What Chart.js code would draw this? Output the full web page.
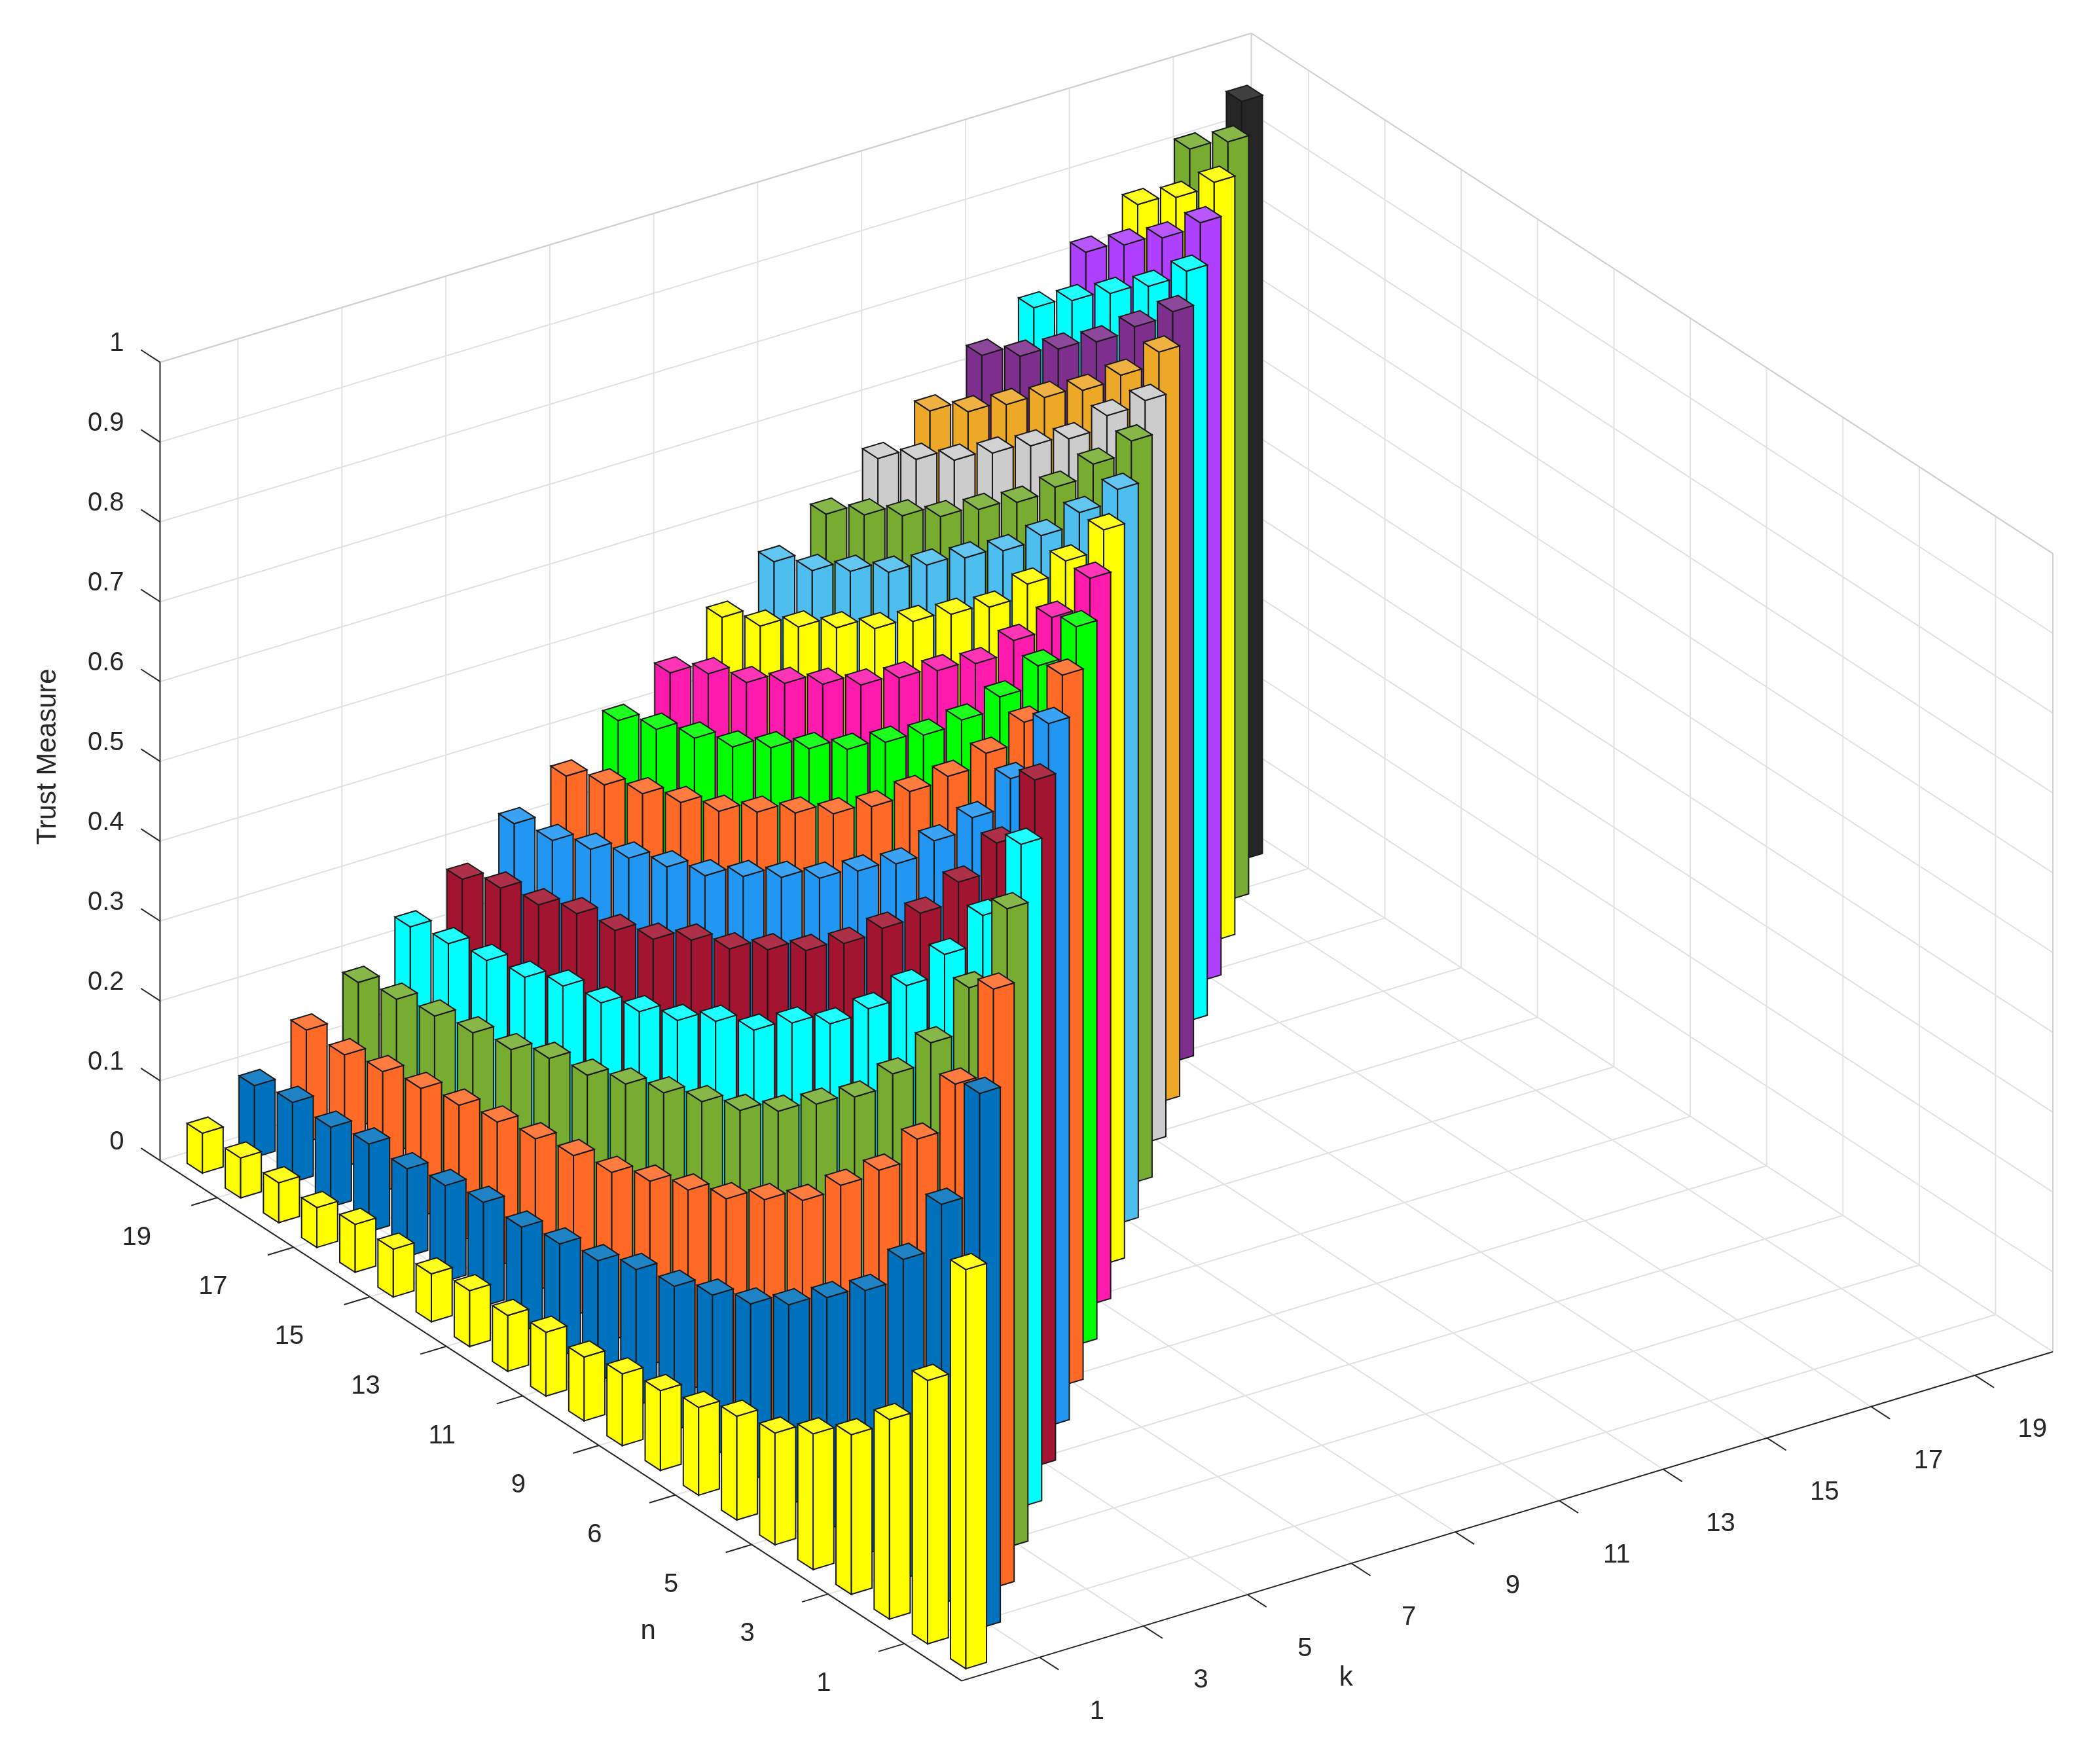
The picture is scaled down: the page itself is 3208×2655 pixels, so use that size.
<!DOCTYPE html>
<html>
<head>
<meta charset="utf-8">
<style>
  html, body { margin: 0; padding: 0; background: #fff; }
  #wrap { width: 3208px; height: 2655px; }
</style>
<script src="https://cdn.jsdelivr.net/npm/chart.js@4.4.1/dist/chart.umd.min.js"></script>
</head>
<body>
<div id="wrap"><canvas id="trustChart" width="3208" height="2655"></canvas></div>
<script>
// Trust measure, one row per n (row i holds k = 1..i)
var row1 = [0.50];
var row2 = [0.33, 0.67];
var row3 = [0.25, 0.50, 0.75];
var row4 = [0.20, 0.40, 0.60, 0.80];
var row5 = [0.17, 0.33, 0.50, 0.67, 0.83];
var row6 = [0.14, 0.29, 0.43, 0.57, 0.71, 0.86];
var row7 = [0.13, 0.25, 0.38, 0.50, 0.63, 0.75, 0.88];
var row8 = [0.11, 0.22, 0.33, 0.44, 0.56, 0.67, 0.78, 0.89];
var row9 = [0.10, 0.20, 0.30, 0.40, 0.50, 0.60, 0.70, 0.80, 0.90];
var row10 = [0.09, 0.18, 0.27, 0.36, 0.45, 0.55, 0.64, 0.73, 0.82, 0.91];
var row11 = [0.08, 0.17, 0.25, 0.33, 0.42, 0.50, 0.58, 0.67, 0.75, 0.83, 0.92];
var row12 = [0.08, 0.15, 0.23, 0.31, 0.38, 0.46, 0.54, 0.62, 0.69, 0.77, 0.85, 0.92];
var row13 = [0.07, 0.14, 0.21, 0.29, 0.36, 0.43, 0.50, 0.57, 0.64, 0.71, 0.79, 0.86, 0.93];
var row14 = [0.07, 0.13, 0.20, 0.27, 0.33, 0.40, 0.47, 0.53, 0.60, 0.67, 0.73, 0.80, 0.87, 0.93];
var row15 = [0.06, 0.13, 0.19, 0.25, 0.31, 0.38, 0.44, 0.50, 0.56, 0.63, 0.69, 0.75, 0.81, 0.88, 0.94];
var row16 = [0.06, 0.12, 0.18, 0.24, 0.29, 0.35, 0.41, 0.47, 0.53, 0.59, 0.65, 0.71, 0.76, 0.82, 0.88, 0.94];
var row17 = [0.06, 0.11, 0.17, 0.22, 0.28, 0.33, 0.39, 0.44, 0.50, 0.56, 0.61, 0.67, 0.72, 0.78, 0.83, 0.89, 0.94];
var row18 = [0.05, 0.11, 0.16, 0.21, 0.26, 0.32, 0.37, 0.42, 0.47, 0.53, 0.58, 0.63, 0.68, 0.74, 0.79, 0.84, 0.89, 0.95];
var row19 = [0.05, 0.10, 0.15, 0.20, 0.25, 0.30, 0.35, 0.40, 0.45, 0.50, 0.55, 0.60, 0.65, 0.70, 0.75, 0.80, 0.85, 0.90, 0.95];
var row20 = [0.05, 0.10, 0.14, 0.19, 0.24, 0.29, 0.33, 0.38, 0.43, 0.48, 0.52, 0.57, 0.62, 0.67, 0.71, 0.76, 0.81, 0.86, 0.90, 0.95];
var row21 = [0.05, 0.09, 0.14, 0.18, 0.23, 0.27, 0.32, 0.36, 0.41, 0.45, 0.50, 0.55, 0.59, 0.64, 0.68, 0.73, 0.77, 0.82, 0.86, 0.91, 0.95];
var rows = [row1, row2, row3, row4, row5, row6, row7, row8, row9, row10, row11,
            row12, row13, row14, row15, row16, row17, row18, row19, row20, row21];

// colour of each k column
var kColors = ['#FFFF00', '#0072BD', '#FF6A26', '#77AC30', '#00FFFF', '#A2142F', '#2196F3',
               '#FF6A26', '#00FF00', '#FF1AAE', '#FFFF00', '#4DBEEE', '#77AC30', '#CCCCCC',
               '#EDA828', '#7E2F8E', '#00FFFF', '#B040FF', '#FFFF00', '#77AC30', '#262626'];

var nTicks = [1, 3, 5, 7, 9, 11, 13, 15, 17, 19];
var nTickLabels = ['1', '3', '5', '6', '9', '11', '13', '15', '17', '19'];
var kTicks = [1, 3, 5, 7, 9, 11, 13, 15, 17, 19];
var kTickLabels = ['1', '3', '5', '7', '9', '11', '13', '15', '17', '19'];
var zTicks = [0, 0.1, 0.2, 0.3, 0.4, 0.5, 0.6, 0.7, 0.8, 0.9, 1];
var zTickLabels = ['0', '0.1', '0.2', '0.3', '0.4', '0.5', '0.6', '0.7', '0.8', '0.9', '1'];

/* view: maps (n position, k position, z) into the chart's x/y value space */
var view = {
    ox: 718, oy: 1255,          // front corner (n = -0.5, k = -0.5, z = 0)
    nx: -28.5, ny: -18.5,       // one n step
    kx: 38.8, ky: -11.7,        // one k step
    zh: 596,                    // z = 1
    lo: -0.5, hi: 20.5,
    w: 0.2                      // half width of a bar
};

function proj(n, k, z) {
    var a = n - view.lo, b = k - view.lo;
    return { x: view.ox + a * view.nx + b * view.kx, y: view.oy + a * view.ny + b * view.ky - z * view.zh };
}

function lighten(hex, f) {
    var r = parseInt(hex.substr(1, 2), 16), g = parseInt(hex.substr(3, 2), 16), b = parseInt(hex.substr(5, 2), 16);
    r = Math.round(r + (255 - r) * f); g = Math.round(g + (255 - g) * f); b = Math.round(b + (255 - b) * f);
    return 'rgb(' + r + ',' + g + ',' + b + ')';
}

/* one dataset per k; each point is the projected bar top */
var datasets = kColors.map(function(col, ki) {
    var pts = [];
    rows.forEach(function(r, ni) {
        if (ki < r.length) {
            var p = proj(ni, ki, r[ki]);
            pts.push({ x: p.x, y: p.y, n: ni, k: ki, v: r[ki] });
        }
    });
    return { label: 'k=' + (ki + 1), data: pts, backgroundColor: col, pointRadius: 0 };
});

var bars3d = {
    id: 'bars3d',
    beforeDatasetsDraw: function(chart) {
        var ctx = chart.ctx, xs = chart.scales.x, ys = chart.scales.y;
        function P(n, k, z) { var p = proj(n, k, z); return [xs.getPixelForValue(p.x), ys.getPixelForValue(p.y)]; }
        function line(a, b, color, lw) {
            ctx.beginPath(); ctx.moveTo(a[0], a[1]); ctx.lineTo(b[0], b[1]);
            ctx.strokeStyle = color; ctx.lineWidth = lw; ctx.stroke();
        }
        var lo = view.lo, hi = view.hi, grid = '#e2e2e2', lw = 2;
        ctx.save();

        /* grid: floor, back-left wall (n = hi), right wall (k = hi) */
        kTicks.forEach(function(t) {
            line(P(lo, t, 0), P(hi, t, 0), grid, lw);
            line(P(hi, t, 0), P(hi, t, 1), grid, lw);
        });
        nTicks.forEach(function(t) {
            line(P(t, lo, 0), P(t, hi, 0), grid, lw);
            line(P(t, hi, 0), P(t, hi, 1), grid, lw);
        });
        zTicks.forEach(function(z) {
            line(P(hi, lo, z), P(hi, hi, z), grid, lw);
            line(P(hi, hi, z), P(lo, hi, z), grid, lw);
        });
        line(P(hi, hi, 0), P(hi, hi, 1), '#d0d0d0', lw);
        line(P(lo, hi, 0), P(lo, hi, 1), '#d0d0d0', lw);
        line(P(hi, lo, 1), P(hi, hi, 1), '#d0d0d0', lw);
        line(P(lo, hi, 1), P(hi, hi, 1), '#d0d0d0', lw);

        /* axes */
        var ax = '#262626';
        line(P(lo, lo, 0), P(hi, lo, 0), ax, 2);
        line(P(lo, lo, 0), P(lo, hi, 0), ax, 2);
        line(P(hi, lo, 0), P(hi, lo, 1), ax, 2);

        ctx.fillStyle = '#262626';
        ctx.font = '40px "Liberation Sans", Arial, sans-serif';
        ctx.textBaseline = 'middle';
        ctx.textAlign = 'center';
        nTicks.forEach(function(t, i) {
            var a = P(t, lo, 0), b = P(t, lo - 0.5, 0);
            line(a, b, ax, 2);
            var c = P(t, lo - 1.3, 0);
            ctx.fillText(nTickLabels[i], c[0] - 20, c[1] + 30);
        });
        kTicks.forEach(function(t, i) {
            var a = P(lo, t, 0), b = P(lo - 0.5, t, 0);
            line(a, b, ax, 2);
            var c = P(lo - 1.3, t, 0);
            ctx.fillText(kTickLabels[i], c[0] + 12, c[1] + 34);
        });
        ctx.textAlign = 'right';
        zTicks.forEach(function(z, i) {
            var a = P(hi, lo, z), b = P(hi + 0.5, lo, z);
            line(a, b, ax, 2);
            ctx.fillText(zTickLabels[i], a[0] - 55, a[1] - 28);
        });
        ctx.textAlign = 'center';
        ctx.font = '42px "Liberation Sans", Arial, sans-serif';
        ctx.fillText('n', xs.getPixelForValue(484), ys.getPixelForValue(1218));
        ctx.fillText('k', xs.getPixelForValue(1005), ys.getPixelForValue(1253));
        ctx.save();
        ctx.translate(xs.getPixelForValue(36), ys.getPixelForValue(565));
        ctx.rotate(-Math.PI / 2);
        ctx.fillText('Trust Measure', 0, 0);
        ctx.restore();

        /* bars, far to near */
        var all = [];
        chart.data.datasets.forEach(function(ds, di) {
            ds.data.forEach(function(d) { all.push({ d: d, col: kColors[di] }); });
        });
        all.sort(function(a, b) { return (b.d.n + b.d.k) - (a.d.n + a.d.k); });
        var w = view.w;
        all.forEach(function(it) {
            var n = it.d.n, k = it.d.k, v = it.d.v;
            var faces = [
                [P(n - w, k - w, 0), P(n - w, k + w, 0), P(n - w, k + w, v), P(n - w, k - w, v)],
                [P(n - w, k - w, 0), P(n + w, k - w, 0), P(n + w, k - w, v), P(n - w, k - w, v)],
                [P(n - w, k - w, v), P(n + w, k - w, v), P(n + w, k + w, v), P(n - w, k + w, v)]
            ];
            var fills = [it.col, it.col, lighten(it.col, 0.12)];
            faces.forEach(function(f, fi) {
                ctx.beginPath();
                ctx.moveTo(f[0][0], f[0][1]);
                for (var i = 1; i < f.length; i++) ctx.lineTo(f[i][0], f[i][1]);
                ctx.closePath();
                ctx.fillStyle = fills[fi];
                ctx.fill();
                ctx.strokeStyle = '#1a1a1a';
                ctx.lineWidth = 2;
                ctx.stroke();
            });
        });
        ctx.restore();
    }
};

new Chart(document.getElementById('trustChart').getContext('2d'), {
    type: 'scatter',
    data: { datasets: datasets },
    options: {
        responsive: false,
        animation: false,
        events: [],
        layout: { padding: 0 },
        plugins: { legend: { display: false }, tooltip: { enabled: false } },
        scales: {
            x: { type: 'linear', min: 0, max: 1568, display: false },
            y: { type: 'linear', min: 0, max: 1297.7, reverse: true, display: false }
        }
    },
    plugins: [bars3d]
});
</script>
</body>
</html>
